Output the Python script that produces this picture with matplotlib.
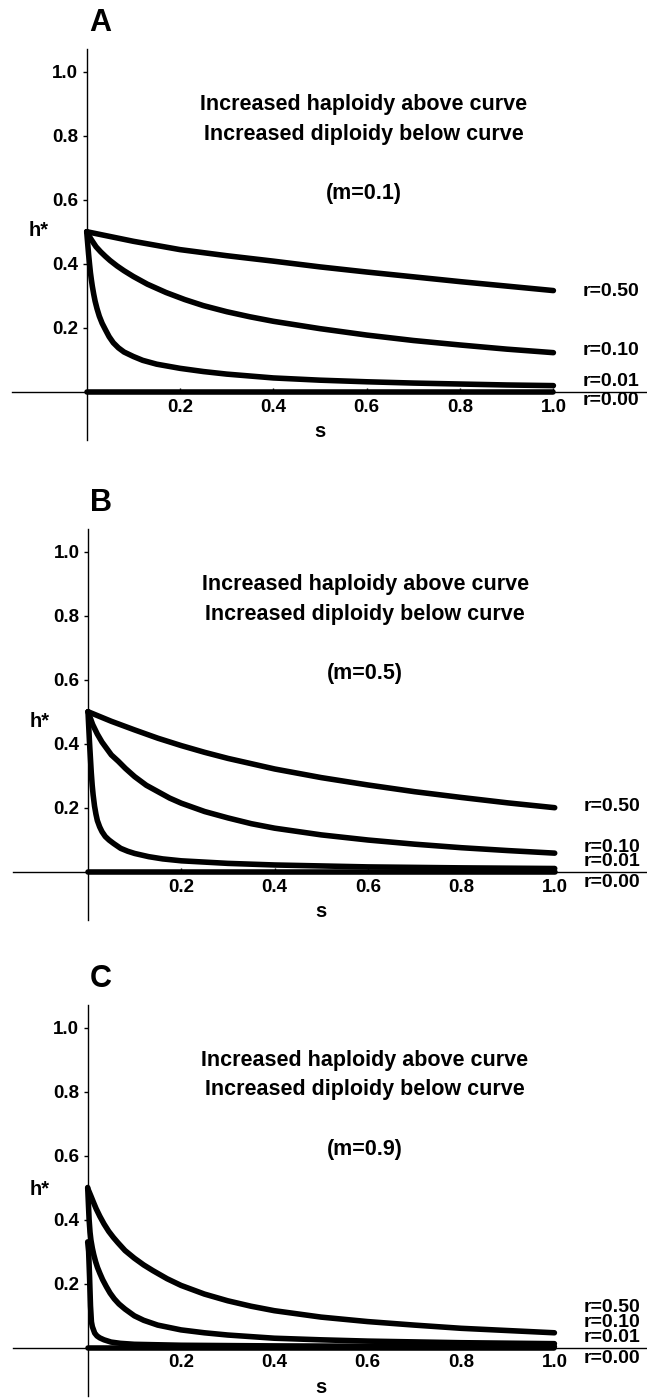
import matplotlib
matplotlib.use("Agg")
import matplotlib.pyplot as plt

plt.rcParams['font.family'] = ['Liberation Sans', 'DejaVu Sans']
plt.rcParams['font.weight'] = 'bold'

# panel A (m=0.1)
sA_50 = [0, 0.05, 0.1, 0.2, 0.3, 0.4, 0.5, 0.6, 0.7, 0.8, 0.9, 1.0]
hA_50 = [0.5, 0.485, 0.47, 0.444, 0.425, 0.408, 0.39, 0.374, 0.359, 0.344, 0.330, 0.316]
sA_10 = [0, 0.005, 0.01, 0.02, 0.03, 0.04, 0.05, 0.065, 0.08, 0.1, 0.13, 0.17, 0.21, 0.25, 0.3, 0.35,
         0.4, 0.5, 0.6, 0.7, 0.8, 0.9, 1.0]
hA_10 = [0.5, 0.487, 0.475, 0.453, 0.437, 0.423, 0.41, 0.393, 0.378, 0.36, 0.336, 0.31, 0.288, 0.269, 0.25, 0.234,
         0.22, 0.197, 0.177, 0.16, 0.146, 0.133, 0.122]
sA_01 = [0, 0.002, 0.004, 0.006, 0.008, 0.01, 0.012, 0.015, 0.018, 0.022, 0.027, 0.033, 0.04, 0.048,
         0.057, 0.068, 0.08, 0.1, 0.12, 0.15, 0.2, 0.25, 0.3, 0.4, 0.5, 0.6, 0.7, 0.8, 0.9, 1.0]
hA_01 = [0.5, 0.465, 0.43, 0.4, 0.372, 0.35, 0.33, 0.305, 0.283, 0.26, 0.236, 0.214, 0.194, 0.172,
         0.153, 0.137, 0.124, 0.11, 0.098, 0.086, 0.073, 0.063, 0.055, 0.043, 0.036, 0.031, 0.027, 0.024, 0.021, 0.019]

# panel B (m=0.5)
sB_50 = [0, 0.05, 0.1, 0.15, 0.2, 0.25, 0.3, 0.4, 0.5, 0.6, 0.7, 0.8, 0.9, 1.0]
hB_50 = [0.5, 0.47, 0.443, 0.417, 0.394, 0.373, 0.354, 0.321, 0.294, 0.271, 0.25, 0.232, 0.215, 0.2]
sB_10 = [0, 0.01, 0.02, 0.03, 0.04, 0.05, 0.065, 0.08, 0.1, 0.125, 0.15, 0.175, 0.2, 0.25, 0.3, 0.35,
         0.4, 0.5, 0.6, 0.7, 0.8, 0.9, 1.0]
hB_10 = [0.5, 0.46, 0.43, 0.405, 0.385, 0.365, 0.345, 0.323, 0.297, 0.27, 0.25, 0.23, 0.214, 0.188, 0.168, 0.15,
         0.136, 0.115, 0.099, 0.086, 0.075, 0.066, 0.058]
sB_01 = [0, 0.001, 0.002, 0.003, 0.005, 0.007, 0.009, 0.011, 0.014, 0.017, 0.02, 0.025, 0.03, 0.037,
         0.045, 0.055, 0.07, 0.085, 0.1, 0.13, 0.16, 0.2, 0.3, 0.4, 0.5, 0.6, 0.8, 1.0]
hB_01 = [0.5, 0.47, 0.44, 0.41, 0.36, 0.31, 0.27, 0.24, 0.205, 0.18, 0.16, 0.14, 0.125, 0.11,
         0.099, 0.088, 0.073, 0.064, 0.057, 0.047, 0.04, 0.034, 0.026, 0.021, 0.018, 0.015, 0.012, 0.01]

# panel C (m=0.9)
sC_50 = [0, 0.003, 0.007, 0.012, 0.018, 0.026, 0.035, 0.045, 0.055, 0.065, 0.08, 0.1, 0.12, 0.14,
         0.17, 0.2, 0.25, 0.3, 0.35, 0.4, 0.5, 0.6, 0.7, 0.8, 0.9, 1.0]
hC_50 = [0.497, 0.487, 0.473, 0.455, 0.434, 0.41, 0.386, 0.363, 0.344, 0.327, 0.303, 0.279, 0.258, 0.24,
         0.215, 0.194, 0.167, 0.146, 0.129, 0.115, 0.095, 0.081, 0.07, 0.06, 0.053, 0.046]
sC_10 = [0, 0.0015, 0.003, 0.005, 0.007, 0.01, 0.013, 0.017, 0.021, 0.026, 0.032, 0.04, 0.048, 0.057,
         0.067, 0.08, 0.1, 0.12, 0.15, 0.2, 0.25, 0.3, 0.4, 0.5, 0.6, 0.8, 1.0]
hC_10 = [0.5, 0.45, 0.4, 0.36, 0.335, 0.31, 0.29, 0.268, 0.25, 0.232, 0.212, 0.19, 0.17, 0.152,
         0.136, 0.12, 0.099, 0.085, 0.07, 0.055, 0.046, 0.039, 0.029, 0.024, 0.02, 0.015, 0.012]
sC_01 = [0, 0.002, 0.004, 0.006, 0.008, 0.01, 0.015, 0.02, 0.026, 0.035, 0.05, 0.07, 0.1, 0.2, 0.4, 0.6, 1.0]
hC_01 = [0.33, 0.3, 0.22, 0.13, 0.08, 0.065, 0.045, 0.036, 0.03, 0.024, 0.017, 0.013, 0.01, 0.007, 0.005, 0.004, 0.003]

s_00 = [0, 1.0]
h_00 = [0, 0]

panel_letters = ['A', 'B', 'C']
m_labels = ['(m=0.1)', '(m=0.5)', '(m=0.9)']
r_labels = ['r=0.50', 'r=0.10', 'r=0.01', 'r=0.00']
# y positions of the r labels, per panel
r_label_y = [[0.3125, 0.13, 0.031, -0.026],
             [0.203, 0.076, 0.031, -0.034],
             [0.125, 0.077, 0.03, -0.034]]
hstar_y = [0.505, 0.47, 0.495]
xticks = [0.2, 0.4, 0.6, 0.8, 1.0]
yticks = [0.2, 0.4, 0.6, 0.8, 1.0]

curves = [
    [(sA_50, hA_50), (sA_10, hA_10), (sA_01, hA_01), (s_00, h_00)],
    [(sB_50, hB_50), (sB_10, hB_10), (sB_01, hB_01), (s_00, h_00)],
    [(sC_50, hC_50), (sC_10, hC_10), (sC_01, hC_01), (s_00, h_00)],
]

W, H = 647, 1399
fig = plt.figure(figsize=(W / 100, H / 100), dpi=100)

xmin, xmax = -0.16, 1.2
ymin, ymax = -0.15, 1.07
px_x, px_y = 466.7, 320.0
origins = [(86.7, 391.7), (88.0, 871.7), (87.7, 1347.5)]  # pixel position of (0,0)

for i, (x0, y0) in enumerate(origins):
    left = x0 + xmin * px_x
    top = y0 - ymax * px_y
    w = (xmax - xmin) * px_x
    h = (ymax - ymin) * px_y
    ax = fig.add_axes([left / W, 1 - (top + h) / H, w / W, h / H])
    ax.set_xlim(xmin, xmax)
    ax.set_ylim(ymin, ymax)
    ax.patch.set_alpha(0)

    for s, hh in curves[i]:
        ax.plot(s, hh, color='black', lw=4, solid_capstyle='round',
                solid_joinstyle='round', clip_on=False)

    for sp in ['top', 'right']:
        ax.spines[sp].set_visible(False)
    ax.spines['left'].set_position(('data', 0))
    ax.spines['bottom'].set_position(('data', 0))
    ax.spines['left'].set_linewidth(1.0)
    ax.spines['bottom'].set_linewidth(1.0)

    ax.set_xticks(xticks)
    ax.set_xticklabels([f'{t:.1f}' for t in xticks])
    ax.set_yticks(yticks)
    ax.set_yticklabels([f'{t:.1f}' for t in yticks])
    ax.tick_params(axis='x', direction='in', length=3, width=1, pad=5, labelsize=13.5)
    ax.tick_params(axis='y', direction='out', length=3, width=1, pad=3, labelsize=13.5)
    for lab in ax.get_xticklabels() + ax.get_yticklabels():
        lab.set_fontweight('bold')

    ax.text(0.0285, 1.153, panel_letters[i], fontsize=22, fontweight='heavy',
            ha='center', va='center', clip_on=False)
    ax.text(-0.104, hstar_y[i], 'h*', fontsize=14.5, fontweight='bold',
            ha='center', va='center')
    ax.text(0.5, -0.125, 's', fontsize=14.5, fontweight='bold',
            ha='center', va='center')
    ax.text(0.594, 0.896, 'Increased haploidy above curve', fontsize=15.5,
            fontweight='bold', ha='center', va='center')
    ax.text(0.594, 0.805, 'Increased diploidy below curve', fontsize=15.5,
            fontweight='bold', ha='center', va='center')
    ax.text(0.594, 0.62, m_labels[i], fontsize=15.5, fontweight='bold',
            ha='center', va='center')
    for lab, yy in zip(r_labels, r_label_y[i]):
        ax.text(1.062, yy, lab, fontsize=14, fontweight='bold',
                ha='left', va='center', clip_on=False)

fig.savefig('out.png', dpi=100)
